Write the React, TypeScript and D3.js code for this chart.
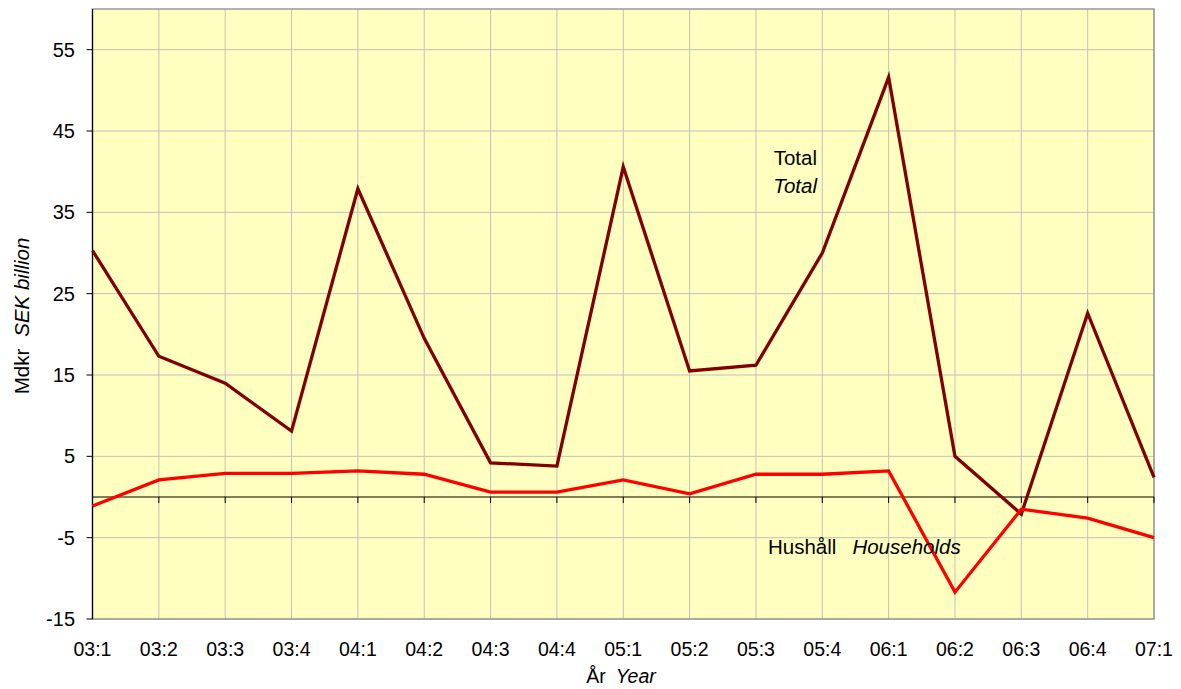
import React from "react";
import * as d3 from "d3";

const categories = ["03:1","03:2","03:3","03:4","04:1","04:2","04:3","04:4","05:1","05:2","05:3","05:4","06:1","06:2","06:3","06:4","07:1"];
const totalValues = [30.3,17.3,14.0,8.1,37.9,19.5,4.2,3.8,40.6,15.5,16.2,30.0,51.6,5.0,-2.1,22.6,2.4];
const householdValues = [-1.1,2.1,2.9,2.9,3.2,2.8,0.6,0.6,2.1,0.4,2.8,2.8,3.2,-11.7,-1.5,-2.6,-5.0];
const yTicks = [-15,-5,5,15,25,35,45,55];

const W = 1181, H = 689;
const L = 92.5, R = 1154, T = 9, B = 619;

export default function App() {
  const x = d3.scalePoint<string>().domain(categories).range([L, R]);
  const y = d3.scaleLinear().domain([-15, 60]).range([B, T]);
  const line = d3.line<number>().x((_, i) => x(categories[i])!).y(d => y(d));
  const font = "Arial, 'Liberation Sans', Helvetica, sans-serif";
  return (
    <svg width={W} height={H} style={{ position: "absolute", left: 0, top: 0 }} fontFamily={font}>
      <rect x={L} y={T} width={R - L} height={B - T} fill="#ffffc0" />
      {categories.map(c => (
        <line key={"gx" + c} x1={x(c)} x2={x(c)} y1={T} y2={B} stroke="#c0c0c0" strokeWidth={1} />
      ))}
      {yTicks.map(t => (
        <line key={"gy" + t} x1={L} x2={R} y1={y(t)} y2={y(t)} stroke="#c0c0c0" strokeWidth={1} />
      ))}
      <rect x={L} y={T} width={R - L} height={B - T} fill="none" stroke="#999" strokeWidth={1.5} />
      <line x1={L} x2={L} y1={T} y2={B} stroke="#000" strokeWidth={1.2} />
      <line x1={L} x2={R} y1={y(0)} y2={y(0)} stroke="#000" strokeWidth={1.2} />
      {categories.map(c => (
        <line key={"tx" + c} x1={x(c)} x2={x(c)} y1={y(0)} y2={y(0) + 6} stroke="#000" strokeWidth={1} />
      ))}
      {yTicks.map(t => (
        <g key={"ty" + t}>
          <line x1={L - 6} x2={L} y1={y(t)} y2={y(t)} stroke="#000" strokeWidth={1} />
          <text x={75} y={y(t)} dy="0.35em" textAnchor="end" fontSize={20} fill="#000">{t}</text>
        </g>
      ))}
      {categories.map(c => (
        <text key={"lx" + c} x={x(c)} y={656} textAnchor="middle" fontSize={19.5} fill="#000">{c}</text>
      ))}
      <path d={line(totalValues)!} fill="none" stroke="#800000" strokeWidth={3.3} strokeLinejoin="miter" />
      <path d={line(householdValues)!} fill="none" stroke="#ff0000" strokeWidth={3.3} strokeLinejoin="miter" />
      <text x={817} y={165} textAnchor="end" fontSize={20.5}>Total</text>
      <text x={817} y={193} textAnchor="end" fontSize={20.5} fontStyle="italic">Total</text>
      <text x={768} y={554} fontSize={20.5}>Hushåll<tspan dx={16} fontStyle="italic">Households</tspan></text>
      <text x={621} y={683} textAnchor="middle" fontSize={19.5}>År<tspan dx={10} fontStyle="italic">Year</tspan></text>
      <text transform={`translate(29,316) rotate(-90)`} textAnchor="middle" fontSize={20.5}>Mdkr<tspan dx={12} fontStyle="italic">SEK billion</tspan></text>
    </svg>
  );
}
